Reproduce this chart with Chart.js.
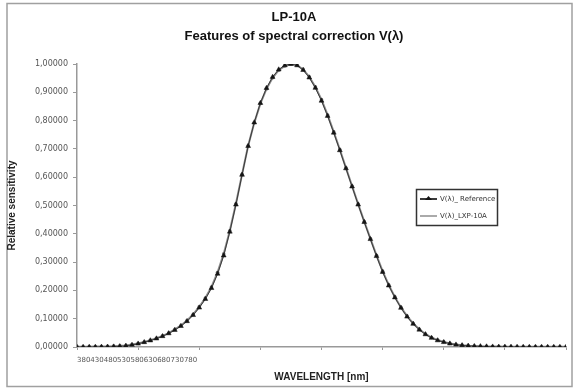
<!DOCTYPE html>
<html>
<head>
<meta charset="utf-8">
<script src="https://cdn.jsdelivr.net/npm/chart.js@4"></script>
<style>
    html, body { margin: 0; padding: 0; background: #fff; }
    #wrap { position: relative; width: 576px; height: 389px; }
</style>
</head>
<body>
<div id="wrap"><canvas id="vlambdaChart" width="576" height="389"></canvas></div>
<script>
// wavelength grid (nm)
const wavelengths = [
    380, 385, 390, 395, 400, 405, 410, 415, 420, 425,
    430, 435, 440, 445, 450, 455, 460, 465, 470, 475,
    480, 485, 490, 495, 500, 505, 510, 515, 520, 525,
    530, 535, 540, 545, 550, 555, 560, 565, 570, 575,
    580, 585, 590, 595, 600, 605, 610, 615, 620, 625,
    630, 635, 640, 645, 650, 655, 660, 665, 670, 675,
    680, 685, 690, 695, 700, 705, 710, 715, 720, 725,
    730, 735, 740, 745, 750, 755, 760, 765, 770, 775,
    780
];

// V(λ)_ Reference
const referenceValues = [
    0.00004, 0.00006, 0.00012, 0.00022, 0.0004, 0.00064, 0.0012, 0.0022, 0.004, 0.0073,
    0.0116, 0.0168, 0.023, 0.0298, 0.038, 0.048, 0.06, 0.0739, 0.091, 0.1126,
    0.139, 0.1693, 0.208, 0.2586, 0.323, 0.4073, 0.503, 0.6082, 0.71, 0.7932,
    0.862, 0.9149, 0.954, 0.9803, 0.995, 1.0, 0.995, 0.9786, 0.952, 0.9154,
    0.87, 0.8163, 0.757, 0.6949, 0.631, 0.5668, 0.503, 0.4412, 0.381, 0.321,
    0.265, 0.217, 0.175, 0.1382, 0.107, 0.0816, 0.061, 0.0446, 0.032, 0.0232,
    0.017, 0.0119, 0.0082, 0.0057, 0.0041, 0.0029, 0.0021, 0.0015, 0.001, 0.0007,
    0.0005, 0.0004, 0.0002, 0.0002, 0.0001, 0.0001, 0.0001, 0.0, 0.0, 0.0,
    0.0
];

// V(λ)_LXP-10A
const meterValues = [
    0.0008, 0.001, 0.0012, 0.0015, 0.0018, 0.0022, 0.003, 0.004, 0.0055, 0.0085,
    0.0125, 0.0175, 0.024, 0.031, 0.0395, 0.049, 0.062, 0.076, 0.0935, 0.115,
    0.142, 0.173, 0.212, 0.264, 0.329, 0.411, 0.506, 0.61, 0.711, 0.792,
    0.86, 0.912, 0.951, 0.978, 0.993, 0.999, 0.996, 0.981, 0.955, 0.919,
    0.874, 0.82, 0.76, 0.698, 0.633, 0.569, 0.505, 0.443, 0.383, 0.324,
    0.268, 0.219, 0.177, 0.14, 0.109, 0.083, 0.0625, 0.046, 0.0335, 0.0245,
    0.018, 0.0128, 0.009, 0.0065, 0.0048, 0.0036, 0.0028, 0.0022, 0.0018, 0.0015,
    0.0013, 0.0011, 0.001, 0.0009, 0.0008, 0.0008, 0.0007, 0.0007, 0.0006, 0.0006,
    0.0006
];

// x-axis tick labels (they end up crammed together at the left end)
const tickLabels = ['380', '430', '480', '530', '580', '630', '680', '730', '780'];

const seriesLabels = ['V(λ)_ Reference', 'V(λ)_LXP-10A'];
const titleLines = ['LP-10A', 'Features of spectral correction V(λ)'];

const toPoints = (values) => wavelengths.map((w, i) => ({ x: w, y: values[i] }));

// outer frame + white background
const framePlugin = {
    id: 'frame',
    beforeDraw(chart) {
        const ctx = chart.ctx;
        ctx.save();
        ctx.fillStyle = '#fff';
        ctx.fillRect(0, 0, chart.width, chart.height);
        ctx.strokeStyle = '#a0a0a0';
        ctx.lineWidth = 1.5;
        ctx.strokeRect(7, 3.5, 565, 383);
        ctx.restore();
    }
};

// boxed legend sitting inside the plot, like the original
const boxLegendPlugin = {
    id: 'boxLegend',
    afterDraw(chart) {
        const ctx = chart.ctx;
        const x = 416, y = 189, w = 81, h = 36;
        ctx.save();
        ctx.fillStyle = '#fff';
        ctx.fillRect(x, y, w, h);
        ctx.strokeStyle = '#333';
        ctx.lineWidth = 1.5;
        ctx.strokeRect(x + 0.5, y + 0.5, w, h);

        chart.data.datasets.forEach((ds, i) => {
            const ly = y + 10 + i * 17;
            ctx.strokeStyle = ds.borderColor;
            ctx.lineWidth = ds.legendLineWidth;
            ctx.beginPath();
            ctx.moveTo(x + 4, ly);
            ctx.lineTo(x + 21, ly);
            ctx.stroke();
            if (i === 0) {
                ctx.fillStyle = ds.pointBackgroundColor;
                ctx.beginPath();
                ctx.moveTo(x + 12.5, ly - 3);
                ctx.lineTo(x + 16, ly + 1);
                ctx.lineTo(x + 9, ly + 1);
                ctx.closePath();
                ctx.fill();
            }
            ctx.fillStyle = '#333';
            ctx.font = '7px "DejaVu Sans"';
            ctx.textBaseline = 'middle';
            ctx.fillText(ds.label, x + 24, ly);
        });
        ctx.restore();
    }
};

new Chart(document.getElementById('vlambdaChart').getContext('2d'), {
    type: 'line',
    data: {
        datasets: [
            {
                label: seriesLabels[0],
                data: toPoints(referenceValues),
                borderColor: '#3a3a3a',
                borderWidth: 1,
                legendLineWidth: 2,
                pointStyle: 'triangle',
                pointRadius: 2.8,
                pointBackgroundColor: '#151515',
                pointBorderColor: '#151515',
                pointBorderWidth: 0.5,
                tension: 0
            },
            {
                label: seriesLabels[1],
                data: toPoints(meterValues),
                borderColor: '#8e8e8e',
                borderWidth: 2,
                legendLineWidth: 1.5,
                pointStyle: 'circle',
                pointRadius: 1.8,
                pointBackgroundColor: '#7a7a7a',
                pointBorderColor: '#7a7a7a',
                pointBorderWidth: 0,
                tension: 0
            }
        ]
    },
    options: {
        responsive: false,
        animation: false,
        events: [],
        layout: { padding: { left: 22, right: 10, top: 0, bottom: 0 } },
        plugins: {
            legend: { display: false },
            tooltip: { enabled: false },
            title: {
                display: true,
                text: titleLines,
                color: '#111',
                font: { family: '"Liberation Sans", Arial, sans-serif', size: 13, weight: 'bold', lineHeight: '19px' },
                padding: { top: 8, bottom: 18 }
            }
        },
        scales: {
            x: {
                type: 'linear',
                min: 380,
                max: 780,
                afterFit(scale) { scale.height = 42; },
                afterBuildTicks(scale) {
                    scale.ticks = tickLabels.map((t) => ({ value: Number(t) }));
                },
                ticks: {
                    autoSkip: false,
                    maxRotation: 0,
                    minRotation: 0,
                    align: 'start',
                    padding: 6,
                    color: '#555',
                    font: { family: '"DejaVu Sans"', size: 7 },
                    callback: (value, index) => (index === 0 ? tickLabels.join('') : '')
                },
                grid: { drawOnChartArea: false, drawTicks: true, tickLength: 3, color: '#999' },
                border: { color: '#999', width: 1.5 },
                title: {
                    display: true,
                    text: 'WAVELENGTH [nm]',
                    color: '#222',
                    font: { family: '"Liberation Sans", Arial, sans-serif', size: 10, weight: 'bold', lineHeight: '12px' },
                    padding: { top: 0, bottom: 6 }
                }
            },
            y: {
                min: 0,
                max: 1,
                afterFit(scale) { scale.width = 55; },
                ticks: {
                    stepSize: 0.1,
                    padding: 5,
                    color: '#555',
                    font: { family: '"DejaVu Sans"', size: 8 },
                    callback: (value) => value.toFixed(5).replace('.', ',')
                },
                grid: { drawOnChartArea: false, drawTicks: true, tickLength: 4, color: '#999' },
                border: { color: '#999', width: 1.5 },
                title: {
                    display: true,
                    text: 'Relative sensitivity',
                    color: '#222',
                    font: { family: '"Liberation Sans", Arial, sans-serif', size: 10, weight: 'bold', lineHeight: '12px' },
                    // pulled back left so the label stays near the frame
                    padding: { top: -16, bottom: 0 }
                }
            }
        }
    },
    plugins: [framePlugin, boxLegendPlugin]
});
</script>
</body>
</html>
